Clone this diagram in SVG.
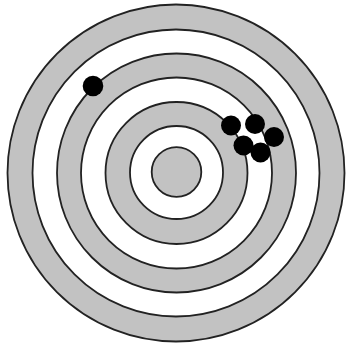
<svg xmlns="http://www.w3.org/2000/svg" width="346" height="345" viewBox="0 0 346 345">
<style>
.g{fill:#c2c2c2;stroke:#222;stroke-width:1.8}
.w{fill:#fff;stroke:#222;stroke-width:1.8}
.d{fill:#000}
</style>
<rect width="346" height="345" fill="#fff"/>
<g id="target">
<circle class="g" cx="176" cy="173" r="168.5"/>
<circle class="w" cx="176" cy="173" r="143.5"/>
<circle class="g" cx="176.5" cy="173" r="119.5"/>
<circle class="w" cx="176.5" cy="173" r="95.5"/>
<circle class="g" cx="176.5" cy="173" r="71"/>
<circle class="w" cx="176.5" cy="172.5" r="46.5"/>
<circle class="g" cx="176.5" cy="172" r="24.8"/>
</g>
<g id="hits">
<circle class="d" cx="93" cy="86" r="10.3"/>
<circle class="d" cx="231" cy="125.5" r="10"/>
<circle class="d" cx="255" cy="124" r="10"/>
<circle class="d" cx="274" cy="137" r="10"/>
<circle class="d" cx="243.5" cy="145.5" r="10"/>
<circle class="d" cx="260.5" cy="152.5" r="10"/>
</g>
</svg>
